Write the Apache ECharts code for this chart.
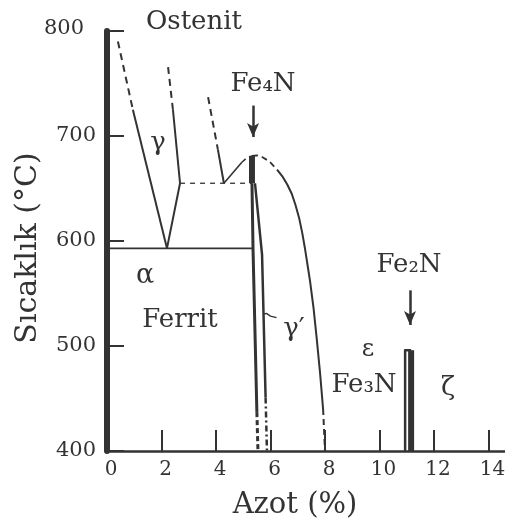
<!DOCTYPE html>
<html><head><meta charset="utf-8">
<script src="https://cdn.jsdelivr.net/npm/echarts@6/dist/echarts.min.js"></script>
<style>html,body{margin:0;padding:0;background:#fff}#c{width:505px;height:526px}</style>
</head><body><div id="c"></div>
<script>
// axis ticks
const xTicks = [0, 2, 4, 6, 8, 10, 12, 14];
const yTicks = [400, 500, 600, 700, 800];
// phase boundaries: [N %, T °C]
const gammaLeftDashed = [[0.40, 790], [0.95, 725]];
const gammaLeftSolid = [[0.95, 725], [2.20, 593]];
const gammaRightSolid = [[2.20, 593], [2.68, 655], [2.42, 725]];
const gammaRightDashed = [[2.42, 725], [2.24, 766]];
const eutectoid590 = [[0, 593], [5.32, 593]];
const eutectoid650 = [[2.68, 655], [5.32, 655]];
const line3Dashed = [[3.71, 737], [4.07, 687]];
const line3Solid = [[4.07, 687], [4.29, 655]];
const domeLeftSolid = [[4.29, 655], [4.95, 675]];
const domeLeftDashed = [[4.95, 675], [5.15, 679.5], [5.32, 681]];
const domeRightDashed = [[5.32, 681], [5.50, 681.5], [5.69, 680], [5.95, 676], [6.24, 668]];
const domeRightSolid = [[6.24, 668], [6.45, 661], [6.61, 654], [6.78, 645], [6.92, 634], [7.05, 622], [7.17, 607], [7.27, 592], [7.45, 562], [7.58, 536], [7.70, 506], [7.82, 474], [7.93, 440]];
const domeRightBottom = [[7.93, 440], [8.0, 400]];
const fe4nBar = [[5.32, 681], [5.32, 655]];
const gpLeftSolid = [[5.32, 655], [5.36, 591], [5.50, 437]];
const gpLeftDashed = [[5.50, 437], [5.54, 400]];
const gpRightSolid = [[5.43, 655], [5.69, 587], [5.82, 451]];
const gpRightDashed = [[5.82, 451], [5.87, 400]];
const gpLeader = [[5.72, 530], [5.85, 531], [6.00, 528.5], [6.22, 527]];
const fe2nThin = [[10.94, 400], [10.94, 496], [11.16, 496]];
const fe2nThick = [[11.16, 496], [11.16, 400]];
const fe4nArrow = [[5.36, 729], [5.36, 699]];
const fe2nArrow = [[11.12, 553], [11.12, 520]];

const INK = '#333';
const FONT = "'DejaVu Serif', 'Liberation Serif', serif";

function ln(data, width, type) {
  return {
    type: 'line', data: data, symbol: 'none', showSymbol: false, smooth: false,
    lineStyle: { color: INK, width: width, type: type || 'solid', cap: 'butt', join: 'round' },
    silent: true, z: 3
  };
}
function arrow(data) {
  return {
    type: 'line', data: [], symbol: 'none',
    markLine: {
      silent: true, symbol: ['none', 'arrow'], symbolSize: [9, 14],
      label: { show: false },
      lineStyle: { color: INK, width: 2.5, type: 'solid' },
      data: [[{ coord: data[0] }, { coord: data[1] }]]
    }
  };
}
const DASH = [7, 5];
const series = [
  ln(gammaLeftDashed, 2, DASH),
  ln(gammaLeftSolid, 2),
  ln(gammaRightSolid, 2),
  ln(gammaRightDashed, 2, DASH),
  ln(eutectoid590, 1.6),
  ln(eutectoid650, 1.3, [5, 5]),
  ln(line3Dashed, 2, DASH),
  ln(line3Solid, 2),
  ln(domeLeftSolid, 1.6),
  ln(domeLeftDashed, 1.6, [5, 4]),
  ln(domeRightDashed, 1.8, [6, 4]),
  ln(domeRightSolid, 2),
  ln(domeRightBottom, 2, [6, 4]),
  ln(fe4nBar, 6),
  ln(gpLeftSolid, 3),
  ln(gpLeftDashed, 3, [5, 3]),
  ln(gpRightSolid, 2.5),
  ln(gpRightDashed, 2.5, [6, 3, 2, 3]),
  ln(gpLeader, 1.4),
  ln(fe2nThin, 2.5),
  ln(fe2nThick, 6),
  arrow(fe4nArrow),
  arrow(fe2nArrow)
];

function txt(x, y, text, size, extra) {
  return Object.assign({
    type: 'text', x: x, y: y, z: 10, silent: true,
    style: { text: text, font: size + 'px ' + FONT, fill: INK, align: 'center', verticalAlign: 'middle' }
  }, extra || {});
}

const chart = echarts.init(document.getElementById('c'), null, { renderer: 'canvas' });
chart.setOption({
  animation: false,
  backgroundColor: '#fff',
  grid: { left: 107, top: 31, width: 436, height: 420, containLabel: false, outerBoundsMode: 'none' },
  xAxis: {
    type: 'value', min: 0, max: 16, interval: 2,
    axisLine: { show: true, onZero: false, lineStyle: { color: INK, width: 2.5 } },
    axisTick: { show: true, inside: true, length: 21, lineStyle: { color: INK, width: 2 } },
    axisLabel: {
      fontFamily: FONT, fontSize: 20, color: INK, margin: 9, padding: [0, 0, 0, 8],
      formatter: function (v) { return xTicks.indexOf(v) >= 0 ? String(v) : ''; }
    },
    splitLine: { show: false }
  },
  yAxis: {
    type: 'value', min: 400, max: 800, interval: 100,
    axisLine: { show: true, onZero: false, lineStyle: { color: INK, width: 6 } },
    axisTick: { show: true, inside: true, length: 17, lineStyle: { color: INK, width: 2 } },
    axisLabel: {
      fontFamily: FONT, fontSize: 21, color: INK, margin: 11,
      formatter: function (v) {
        if (yTicks.indexOf(v) < 0) return '';
        return v === 800 ? '{top|' + v + '}' : String(v);
      },
      rich: { top: { fontFamily: FONT, fontSize: 21, color: INK, padding: [0, 12, 4, 0] } }
    },
    splitLine: { show: false }
  },
  graphic: [
    txt(194, 22, 'Ostenit', 26),
    txt(158, 143, 'γ', 26),
    txt(145, 276, 'α', 27),
    txt(180, 320, 'Ferrit', 26),
    txt(263, 84, 'Fe₄N', 26),
    txt(409, 265, 'Fe₂N', 26),
    txt(294, 329, 'γ′', 26),
    txt(368, 350, 'ε', 24),
    txt(364, 385, 'Fe₃N', 26),
    txt(448, 388, 'ζ', 26),
    txt(295, 505, 'Azot (%)', 29),
    txt(28, 248, 'Sıcaklık (°C)', 30, { rotation: Math.PI / 2 })
  ],
  series: series
});
</script>
</body></html>
